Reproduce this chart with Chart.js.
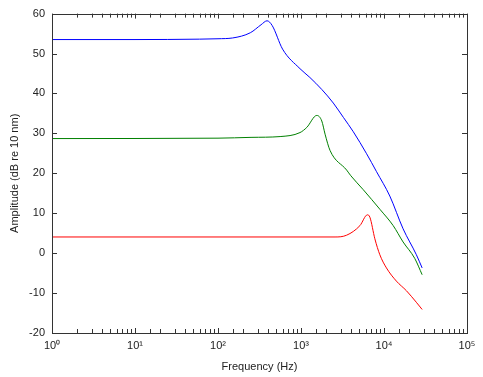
<!DOCTYPE html>
<html>
<head>
<meta charset="utf-8">
<script src="https://cdn.jsdelivr.net/npm/chart.js@4"></script>
<style>
  html, body { margin: 0; padding: 0; background: #fff; }
  #wrap { width: 483px; height: 377px; }
</style>
</head>
<body>
<div id="wrap"><canvas id="myChart"></canvas></div>
<script>
// frequency (Hz) / amplitude (dB)
var blueFreq = [1, 10, 60, 100, 150, 245, 330, 390, 450, 600, 973, 1280, 1780, 2450, 3240, 4270, 6170, 8130, 11750, 16980, 24550, 28800];
var blueAmp  = [53.5, 53.5, 53.6, 53.7, 53.9, 55.2, 57.2, 58.2, 57.0, 51.1, 46.2, 44.0, 41.0, 37.6, 34.0, 30.4, 24.9, 20.4, 14.3, 6.1, -0.4, -3.7];

var greenFreq = [1, 100, 250, 560, 973, 1175, 1550, 1780, 1950, 2240, 3550, 3980, 5620, 8910, 12900, 16980, 23440, 28800];
var greenAmp  = [28.7, 28.8, 29.0, 29.2, 30.2, 31.5, 34.5, 33.1, 29.8, 25.7, 20.8, 19.4, 15.9, 11.0, 6.9, 2.8, -1.3, -5.4];

var redFreq = [1, 2570, 3550, 5130, 6310, 6760, 7760, 8910, 10700, 14100, 18600, 24500, 28800];
var redAmp  = [4.05, 4.05, 4.5, 6.9, 9.6, 9.0, 3.6, -0.4, -3.7, -7.0, -9.4, -12.3, -14.1];

var yTicks = [60, 50, 40, 30, 20, 10, 0, -10, -20];
var supers = ["\u2070", "\u00b9", "\u00b2", "\u00b3", "\u2074", "\u2075"];

function pts(xs, ys) {
    return xs.map(function (x, i) { return { x: x, y: ys[i] }; });
}

function isDecade(v) {
    var l = Math.log10(v);
    return Math.abs(l - Math.round(l)) < 1e-9;
}

// matlab style box with inward ticks on all four sides
var boxTicks = {
    id: "boxTicks",
    afterDraw: function (chart) {
        var c = chart.ctx, a = chart.chartArea;
        var xs = chart.scales.x, ys = chart.scales.y;
        c.save();
        c.strokeStyle = "#333";
        c.lineWidth = 1;
        c.beginPath();
        xs.ticks.forEach(function (t) {
            var px = Math.round(xs.getPixelForValue(t.value)) + 0.5;
            var len = isDecade(t.value) ? 5 : 4;
            c.moveTo(px, a.bottom); c.lineTo(px, a.bottom - len);
            c.moveTo(px, a.top); c.lineTo(px, a.top + len);
        });
        yTicks.forEach(function (v) {
            var py = Math.round(ys.getPixelForValue(v)) + 0.5;
            c.moveTo(a.left, py); c.lineTo(a.left + 5, py);
            c.moveTo(a.right, py); c.lineTo(a.right - 5, py);
        });
        c.stroke();
        c.strokeRect(Math.round(a.left) + 0.5, Math.round(a.top) + 0.5,
            Math.round(a.right - a.left), Math.round(a.bottom - a.top));
        c.restore();
    }
};

document.addEventListener("DOMContentLoaded", function () {
    var ctx = document.getElementById("myChart").getContext("2d");
    var font = { family: "'Liberation Sans', Arial, sans-serif", size: 11 };
    new Chart(ctx, {
        type: "line",
        data: {
            datasets: [
                { data: pts(blueFreq, blueAmp), borderColor: "#0000ff" },
                { data: pts(greenFreq, greenAmp), borderColor: "#008000" },
                { data: pts(redFreq, redAmp), borderColor: "#ff0000" },
            ],
        },
        options: {
            responsive: true,
            maintainAspectRatio: false,
            animation: false,
            layout: { padding: { left: 0, top: 7, right: 16, bottom: 0 } },
            elements: {
                point: { radius: 0 },
                line: { borderWidth: 1, cubicInterpolationMode: "monotone" },
            },
            plugins: {
                legend: { display: false },
                tooltip: { enabled: false },
            },
            scales: {
                x: {
                    type: "logarithmic",
                    min: 1,
                    max: 100000,
                    grid: { display: false, drawTicks: false },
                    border: { display: false },
                    afterFit: function (s) { s.height = 44; },
                    ticks: {
                        autoSkip: false,
                        maxRotation: 0,
                        padding: 6,
                        color: "#222",
                        font: font,
                        callback: function (v) {
                            return isDecade(v) ? "10" + supers[Math.round(Math.log10(v))] : "";
                        },
                    },
                    title: {
                        display: true,
                        text: "Frequency (Hz)",
                        color: "#222",
                        font: font,
                        padding: { top: 0, bottom: 3 },
                    },
                },
                y: {
                    min: -20,
                    max: 60,
                    grid: { display: false, drawTicks: false },
                    border: { display: false },
                    afterFit: function (s) { s.width = 52; },
                    ticks: {
                        stepSize: 10,
                        padding: 7,
                        color: "#222",
                        font: font,
                    },
                    title: {
                        display: true,
                        text: "Amplitude (dB re 10 nm)",
                        color: "#222",
                        font: font,
                        padding: { top: 8, bottom: 0 },
                    },
                },
            },
        },
        plugins: [boxTicks],
    });
});
</script>
</body>
</html>
